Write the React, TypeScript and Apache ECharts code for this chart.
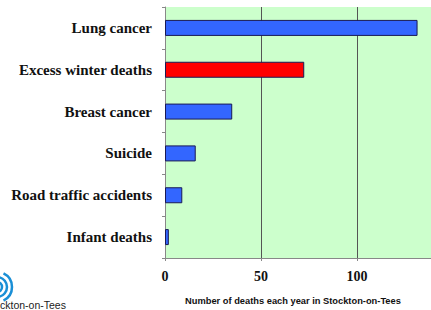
import React, { useEffect, useRef } from "react";
import * as echarts from "echarts";

const categories = [
  "Lung cancer",
  "Excess winter deaths",
  "Breast cancer",
  "Suicide",
  "Road traffic accidents",
  "Infant deaths",
];
const deaths = [131.5, 72.5, 35, 16, 9, 2];
const highlighted = [false, true, false, false, false, false];
const xTicks = [0, 50, 100];
const xMax = 138.5;
const axisTitle = "Number of deaths each year in Stockton-on-Tees";
const logoText = "ckton-on-Tees";

export default function App() {
  const ref = useRef<HTMLDivElement>(null);
  useEffect(() => {
    if (!ref.current) return;
    const chart = echarts.init(ref.current, null, { renderer: "svg" });
    chart.setOption({
      animation: false,
      backgroundColor: "#ffffff",
      grid: {
        left: 165,
        top: 7,
        right: 0,
        height: 251,
        show: true,
        backgroundColor: "#CCFFCC",
        borderWidth: 0,
        containLabel: false,
      },
      xAxis: {
        type: "value",
        min: 0,
        max: xMax,
        interval: 50,
        axisLine: { show: true, lineStyle: { color: "#888888", width: 1 } },
        axisTick: { show: true, length: 3, lineStyle: { color: "#888888" } },
        splitLine: {
          show: true,
          showMinLine: true,
          showMaxLine: false,
          lineStyle: { color: "#555555", width: 1 },
        },
        axisLabel: {
          margin: 11,
          fontFamily: "Liberation Serif",
          fontWeight: "bold",
          fontSize: 14,
          color: "#111111",
          showMaxLabel: false,
          formatter: (v: number) => (xTicks.includes(v) ? String(v) : ""),
        },
      },
      yAxis: {
        type: "category",
        inverse: true,
        data: categories,
        axisLine: { show: true, lineStyle: { color: "#888888", width: 1 } },
        axisTick: { show: true, length: 3, lineStyle: { color: "#888888" } },
        axisLabel: {
          margin: 13,
          fontFamily: "Liberation Serif",
          fontWeight: "bold",
          fontSize: 15,
          color: "#111111",
        },
      },
      series: [
        {
          type: "bar",
          barWidth: 16,
          data: deaths.map((v, i) => ({
            value: v,
            itemStyle: {
              color: highlighted[i] ? "#FF0000" : "#3366FF",
              borderColor: "#1a1a55",
              borderWidth: 1,
            },
          })),
        },
      ],
      graphic: [
        {
          type: "text",
          x: 293,
          y: 301,
          style: {
            text: axisTitle,
            fontFamily: "Liberation Sans",
            fontWeight: "bold",
            fontSize: 9.3,
            fill: "#111111",
            align: "center",
            verticalAlign: "middle",
          },
        },
        {
          type: "text",
          x: 0,
          y: 299,
          style: {
            text: logoText,
            fontFamily: "Liberation Sans",
            fontSize: 10.5,
            fill: "#222222",
          },
        },
        {
          type: "arc",
          shape: { cx: -3, cy: 287, r: 5, startAngle: -Math.PI / 2, endAngle: Math.PI / 2 },
          style: { stroke: "#1a8fd6", lineWidth: 2.5, fill: null },
        },
        {
          type: "arc",
          shape: { cx: -3, cy: 287, r: 10, startAngle: -Math.PI / 2.3, endAngle: Math.PI / 2.3 },
          style: { stroke: "#1a8fd6", lineWidth: 2.5, fill: null },
        },
        {
          type: "arc",
          shape: { cx: -3, cy: 287, r: 15, startAngle: -Math.PI / 2.8, endAngle: Math.PI / 2.8 },
          style: { stroke: "#1a8fd6", lineWidth: 2.5, fill: null },
        },
      ],
    });
    return () => chart.dispose();
  }, []);
  return (
    <div
      ref={ref}
      style={{ position: "fixed", left: 0, top: 0, width: 431, height: 310 }}
    />
  );
}
